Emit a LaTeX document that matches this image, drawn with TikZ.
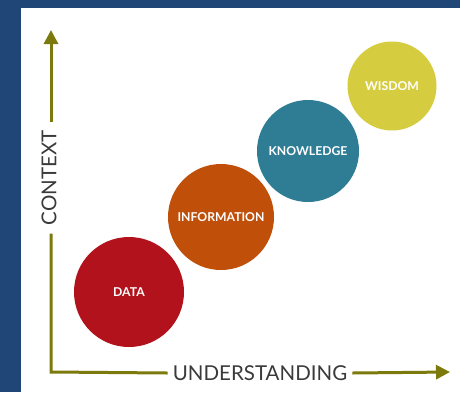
\documentclass[tikz,border=0pt]{standalone}
\usepackage{fontspec}
\setmainfont{Lato}
\usepackage{xcolor}
\usetikzlibrary{arrows.meta}

\definecolor{frameblue}{RGB}{31,70,119}
\definecolor{axisolive}{RGB}{124,122,12}
\definecolor{datared}{RGB}{178,18,27}
\definecolor{infoorange}{RGB}{192,79,10}
\definecolor{knowteal}{RGB}{47,124,149}
\definecolor{wisdomyellow}{RGB}{213,204,63}
\definecolor{labelgrey}{RGB}{58,58,58}

\tikzset{
    stage/.style={circle, inner sep=0pt, text=white, font=\bfseries\fontsize{12.2}{13}\selectfont},
    axislabel/.style={text=labelgrey, inner sep=0pt, font=\fontsize{20.5}{22}\selectfont},
    axisline/.style={axisolive, line width=3pt},
}

\begin{document}
\begin{tikzpicture}[x=1pt, y=-1pt]
    % Frame and white panel
    \fill[frameblue] (0,0) rectangle (460,392);
    \fill[white] (21,8) rectangle (460,392);
    \useasboundingbox (0,0) rectangle (460,392);

    % Axes
    \coordinate (origin) at (51,372);
    \coordinate (ytip) at (51,30);
    \coordinate (xtip) at (450,372);
    \node[axislabel, rotate=90] (context) at (49,178) {CONTEXT};
    \node[axislabel] (understanding) at (260,373) {UNDERSTANDING};

    \draw[axisline] (origin |- context.west) ++(0,8) -- (origin) -- ([xshift=-5pt]understanding.west);
    \draw[axisline, -{Triangle[width=14pt,length=14pt]}] (origin |- context.east) ++(0,-8) -- (ytip);
    \draw[axisline, -{Triangle[width=14pt,length=14pt]}] ([xshift=5pt]understanding.east) -- (xtip);

    % Stages
    \node[stage, fill=datared, minimum size=110pt] (data) at (129,292) {DATA};
    \node[stage, fill=infoorange, minimum size=106pt] (information) at (221,217) {INFORMATION};
    \node[stage, fill=knowteal, minimum size=102pt] (knowledge) at (308,151) {KNOWLEDGE};
    \node[stage, fill=wisdomyellow, minimum size=89pt] (wisdom) at (392,86) {WISDOM};
\end{tikzpicture}
\end{document}
